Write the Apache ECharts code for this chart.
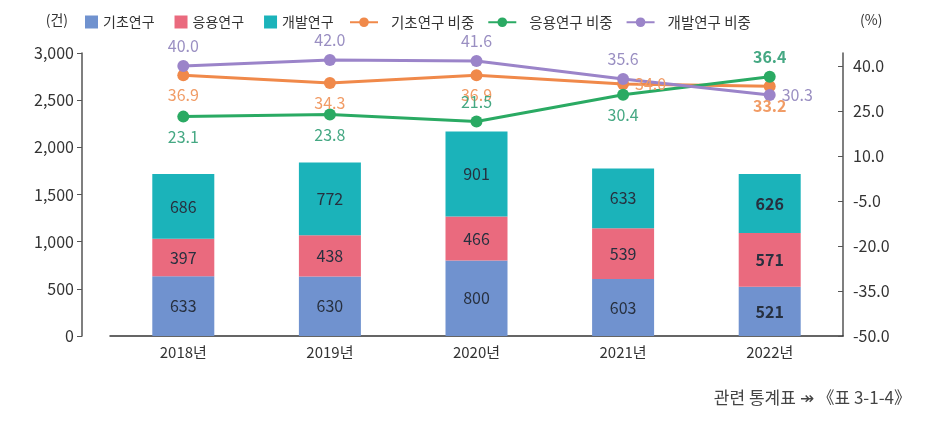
<!DOCTYPE html>
<html><head><meta charset="utf-8">
<script src="https://cdn.jsdelivr.net/npm/echarts@6/dist/echarts.min.js"></script>
<style>html,body{margin:0;padding:0;background:#fff}#c{width:951px;height:425px}</style>
</head><body><div id="c"></div>
<script>
var categories = ['2018년','2019년','2020년','2021년','2022년'];
var basic = [633, 630, 800, 603, 521];
var applied = [397, 438, 466, 539, 571];
var develop = [686, 772, 901, 633, 626];
var basicShare = [36.9, 34.3, 36.9, 34.0, 33.2];
var appliedShare = [23.1, 23.8, 21.5, 30.4, 36.4];
var developShare = [40.0, 42.0, 41.6, 35.6, 30.3];
var leftTicks = [0, 500, 1000, 1500, 2000, 2500, 3000];
var rightTicks = [-50, -35, -20, -5, 10, 25, 40];

var FONT = "'Noto Sans CJK KR',sans-serif";
var KFONT = "'Noto Sans CJK KR',sans-serif";
var last = categories.length - 1;

function barData(arr){
  return arr.map(function(v,i){
    return i===last ? {value:v,label:{fontWeight:'bold'}} : v;
  });
}
function lineData(arr, pos, defPos, boldIdx){
  return arr.map(function(v,i){
    var lab = {position: pos[i] || defPos};
    if (boldIdx.indexOf(i) >= 0) lab.fontWeight = 'bold';
    return {value:v,label:lab};
  });
}

var chart = echarts.init(document.getElementById('c'));
var barLabel = {show:true, position:'inside', color:'#27303f', fontSize:16, fontFamily:FONT,
  formatter:function(p){return p.value;}};
var option = {
  animation:false,
  textStyle:{fontFamily:KFONT},
  grid:{left:110, right:108, top:53, bottom:89},
  legend:[{
    data:['기초연구','응용연구','개발연구'],
    left:80, top:10, itemWidth:13, itemHeight:13, itemGap:20, icon:'rect',
    textStyle:{fontSize:14, color:'#333', fontFamily:KFONT}
  },{
    data:['기초연구 비중','응용연구 비중','개발연구 비중'],
    left:344, top:10, itemWidth:28, itemHeight:12, itemGap:13,
    textStyle:{fontSize:14.5, color:'#333', fontFamily:KFONT, padding:[0,0,0,8]}
  }],
  xAxis:{type:'category', data:categories,
    axisLine:{lineStyle:{color:'#333', width:1.5}}, axisTick:{show:false},
    axisLabel:{color:'#333', fontSize:15, margin:9, fontFamily:FONT}},
  yAxis:[{
    type:'value', min:0, max:3000, interval:500, offset:28,
    name:'(건)', nameLocation:'end', nameGap:26,
    nameTextStyle:{color:'#333', fontSize:14, align:'right', padding:[0,14,0,0], fontFamily:KFONT},
    axisLine:{show:true, lineStyle:{color:'#555', width:1.5}},
    axisTick:{show:true, length:5, inside:false, lineStyle:{color:'#555'}},
    axisLabel:{color:'#333', fontSize:16, margin:8, fontFamily:FONT,
      formatter:function(v){return v.toLocaleString('en-US');}},
    splitLine:{show:false}
  },{
    type:'value', min:-50, max:44.3, position:'right',
    name:'(%)', nameLocation:'end', nameGap:26,
    nameTextStyle:{color:'#333', fontSize:14, align:'left', padding:[0,0,0,17], fontFamily:KFONT},
    axisLine:{show:true, lineStyle:{color:'#555', width:1.5}},
    axisTick:{show:true, length:5, inside:true, customValues:rightTicks, lineStyle:{color:'#555'}},
    axisLabel:{color:'#333', fontSize:16, margin:10, fontFamily:FONT, customValues:rightTicks,
      formatter:function(v){return v.toFixed(1);}},
    splitLine:{show:false}
  }],
  series:[
    {name:'기초연구', type:'bar', stack:'s', barWidth:62, data:barData(basic),
      itemStyle:{color:'#7092cf'}, label:barLabel},
    {name:'응용연구', type:'bar', stack:'s', barWidth:62, data:barData(applied),
      itemStyle:{color:'#ea6a7e'}, label:barLabel},
    {name:'개발연구', type:'bar', stack:'s', barWidth:62, data:barData(develop),
      itemStyle:{color:'#1bb3ba'}, label:barLabel},
    {name:'기초연구 비중', type:'line', yAxisIndex:1, symbol:'circle', symbolSize:12,
      data:lineData(basicShare, {3:'right'}, 'bottom', [4]),
      itemStyle:{color:'#f0894a'}, lineStyle:{width:3, color:'#f0894a'},
      label:{show:true, color:'#f19c66', fontSize:16, distance:6, fontFamily:FONT,
        formatter:function(p){return p.value.toFixed(1);}}},
    {name:'응용연구 비중', type:'line', yAxisIndex:1, symbol:'circle', symbolSize:12,
      data:lineData(appliedShare, {2:'top',4:'top'}, 'bottom', [4]),
      itemStyle:{color:'#2aaa63'}, lineStyle:{width:3, color:'#2aaa63'},
      label:{show:true, color:'#45a883', fontSize:16, distance:6, fontFamily:FONT,
        formatter:function(p){return p.value.toFixed(1);}}},
    {name:'개발연구 비중', type:'line', yAxisIndex:1, symbol:'circle', symbolSize:12,
      data:lineData(developShare, {4:'right'}, 'top', []),
      itemStyle:{color:'#9b84c9'}, lineStyle:{width:3, color:'#9b84c9'},
      label:{show:true, color:'#9a8fc2', fontSize:16, distance:6, fontFamily:FONT,
        formatter:function(p){return p.value.toFixed(1);}}}
  ],
  graphic:[{type:'text', right:40, top:389,
    style:{text:'관련 통계표 ↠ 《표 3-1-4》', fill:'#444', fontSize:17, fontFamily:KFONT}}]
};
chart.setOption(option);
</script></body></html>
